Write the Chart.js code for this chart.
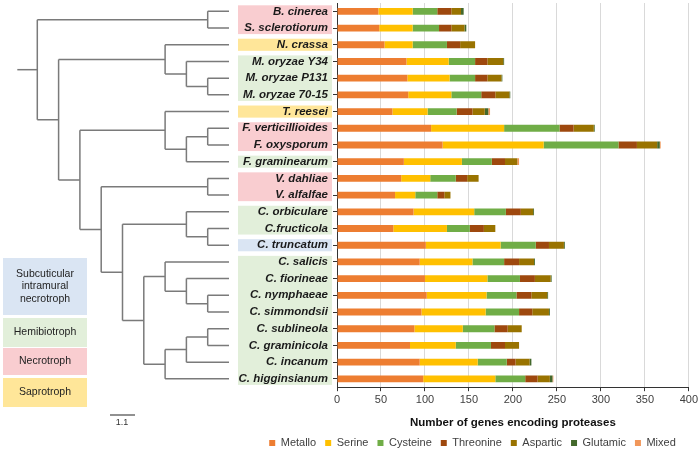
<!DOCTYPE html>
<html>
<head>
<meta charset="utf-8">
<script src="https://cdn.jsdelivr.net/npm/chart.js@4.4.1/dist/chart.umd.min.js"></script>
<style>
  body { margin: 0; background: #fff; }
  canvas { display: block; }
</style>
</head>
<body>
<canvas id="myChart" width="700" height="451"></canvas>
<script>
// species in the order of the tree, top to bottom
const species = [
  "B. cinerea", "S. sclerotiorum", "N. crassa", "M. oryzae Y34", "M. oryzae P131",
  "M. oryzae 70-15", "T. reesei", "F. verticillioides", "F. oxysporum", "F. graminearum",
  "V. dahliae", "V. alfalfae", "C. orbiculare", "C.fructicola", "C. truncatum",
  "C. salicis", "C. fiorineae", "C. nymphaeae", "C. simmondsii", "C. sublineola",
  "C. graminicola", "C. incanum", "C. higginsianum",
];

// N = necrotroph, S = saprotroph, H = hemibiotroph, B = subcuticular intramural necrotroph
const lifestyle = ["N", "N", "S", "H", "H", "H", "S", "N", "N", "H", "N", "N", "H", "H", "B", "H", "H", "H", "H", "H", "H", "H", "H"];

const metallo = [47, 48, 54, 79, 80, 81, 63, 107, 120, 76, 73, 66, 87, 64, 101, 94, 100, 102, 96, 88, 83, 94, 98];
const serine = [39, 38, 32, 48, 48, 49, 40, 83, 115, 66, 33, 23, 69, 61, 85, 60, 71, 68, 73, 55, 52, 66, 82];
const cysteine = [28, 30, 39, 30, 29, 34, 33, 63, 85, 34, 29, 25, 36, 26, 40, 36, 37, 34, 38, 36, 40, 33, 34];
const threonine = [16, 14, 15, 14, 14, 16, 18, 16, 21, 15, 13, 8, 17, 16, 15, 17, 17, 17, 15, 15, 16, 10, 14];
const aspartic = [11, 15, 17, 18, 16, 16, 14, 23, 23, 14, 13, 7, 14, 13, 17, 17, 18, 18, 19, 16, 16, 16, 14];
const glutamic = [3, 2, 0, 1, 1, 1, 4, 1, 3, 0, 0, 0, 1, 0, 1, 1, 1, 1, 1, 0, 0, 2, 3];
const mixed = [0, 0, 0, 0, 0, 0, 2, 0, 1, 2, 0, 0, 0, 0, 0, 0, 0, 0, 0, 0, 0, 0, 1];

// tree topology, leaves are row indices
const tree = [[0, 1], [[2, [3, [4, 5]]], [[6, [[7, 8], 9]], [[10, 11], [[12, [13, 14]], [[15, [16, [17, 18]]], [[[19, 20], 21], 22]]]]]]];

const lifestyleColors = { B: "#dae5f3", H: "#e2efda", N: "#f9cdd0", S: "#ffe699" };
const lifestyleKey = [
  { key: "B", lines: ["Subcuticular", "intramural", "necrotroph"], top: 258, bottom: 315 },
  { key: "H", lines: ["Hemibiotroph"], top: 318, bottom: 347 },
  { key: "N", lines: ["Necrotroph"], top: 348, bottom: 375 },
  { key: "S", lines: ["Saprotroph"], top: 378, bottom: 407 },
];

const FONT = "'Liberation Sans', Arial, sans-serif";
Chart.defaults.font.family = FONT;

const leafX = 229;
const step = 21.3;

function drawNode(ctx, node, yScale) {
  if (typeof node === "number") {
    return { x: leafX, y: yScale.getPixelForValue(node), h: 0 };
  }
  const kids = node.map((n) => drawNode(ctx, n, yScale));
  const h = Math.max(...kids.map((k) => k.h)) + 1;
  const x = leafX - h * step;
  const first = kids[0].y;
  const last = kids[kids.length - 1].y;
  ctx.beginPath();
  ctx.moveTo(x, first);
  ctx.lineTo(x, last);
  kids.forEach((k) => {
    ctx.moveTo(x, k.y);
    ctx.lineTo(k.x, k.y);
  });
  ctx.stroke();
  return { x: x, y: (first + last) / 2, h: h };
}

const treePlugin = {
  id: "tree",
  afterLayout(chart) {
    // legend sits a little right of the centre, as in the original
    chart.legend.left += 10;
    chart.legend.right += 10;
  },
  beforeDraw(chart) {
    const ctx = chart.ctx;
    const y = chart.scales.y;
    const band = Math.abs(y.getPixelForValue(1) - y.getPixelForValue(0));
    ctx.save();

    // coloured boxes behind the species names
    let start = 0;
    for (let i = 1; i <= species.length; i++) {
      if (i === species.length || lifestyle[i] !== lifestyle[start]) {
        const top = y.getPixelForValue(start) - band / 2 + 2.3;
        const bottom = y.getPixelForValue(i - 1) + band / 2 - 2.3;
        ctx.fillStyle = lifestyleColors[lifestyle[start]];
        ctx.fillRect(y.left + 2, top, y.right - y.left - 7, bottom - top);
        start = i;
      }
    }

    // tree
    ctx.strokeStyle = "#7a7a7a";
    ctx.lineWidth = 1.5;
    const root = drawNode(ctx, tree, y);
    ctx.beginPath();
    ctx.moveTo(root.x - 20, root.y);
    ctx.lineTo(root.x, root.y);
    ctx.stroke();

    // scale bar
    ctx.strokeStyle = "#555";
    ctx.lineWidth = 1.3;
    ctx.beginPath();
    ctx.moveTo(110, 415);
    ctx.lineTo(135, 415);
    ctx.stroke();
    ctx.fillStyle = "#333";
    ctx.font = "9px " + FONT;
    ctx.textAlign = "center";
    ctx.textBaseline = "middle";
    ctx.fillText("1.1", 122, 423);

    // lifestyle key
    lifestyleKey.forEach((item) => {
      ctx.fillStyle = lifestyleColors[item.key];
      ctx.fillRect(3, item.top, 84, item.bottom - item.top);
      ctx.fillStyle = "#222";
      ctx.font = "10.5px " + FONT;
      const mid = (item.top + item.bottom) / 2;
      item.lines.forEach((line, j) => {
        ctx.fillText(line, 45, mid + (j - (item.lines.length - 1) / 2) * 12.5);
      });
    });
    ctx.restore();
  },
};

const ctx = document.getElementById("myChart").getContext("2d");
const myChart = new Chart(ctx, {
  type: "bar",
  data: {
    labels: species,
    datasets: [
      { label: "Metallo", data: metallo, backgroundColor: "#ed7d31" },
      { label: "Serine", data: serine, backgroundColor: "#ffc000" },
      { label: "Cysteine", data: cysteine, backgroundColor: "#70ad47" },
      { label: "Threonine", data: threonine, backgroundColor: "#9e480e" },
      { label: "Aspartic", data: aspartic, backgroundColor: "#997300" },
      { label: "Glutamic", data: glutamic, backgroundColor: "#43682b" },
      { label: "Mixed", data: mixed, backgroundColor: "#f1975a" },
    ],
  },
  options: {
    indexAxis: "y",
    responsive: false,
    animation: false,
    datasets: {
      bar: { categoryPercentage: 1, barPercentage: 0.41, borderWidth: 0 },
    },
    layout: { padding: { left: 236, right: 11, top: 3, bottom: -7.5 } },
    plugins: {
      legend: {
        position: "bottom",
        labels: { boxWidth: 6, boxHeight: 6, padding: 9, color: "#404040", font: { size: 11 } },
      },
      tooltip: { enabled: false },
    },
    scales: {
      x: {
        stacked: true,
        min: 0,
        max: 400,
        ticks: { stepSize: 50, padding: 2, color: "#404040", font: { size: 11 } },
        grid: { color: "#d9d9d9", tickColor: "#333", tickLength: 4 },
        border: { color: "#333" },
        title: {
          display: true,
          text: "Number of genes encoding proteases",
          color: "#111",
          font: { size: 11.5, weight: "bold" },
          padding: { top: 8, bottom: -1.7 },
        },
      },
      y: {
        stacked: true,
        afterFit(scale) {
          scale.width = 101;
          scale.paddingTop = 0;
          scale.paddingBottom = 0;
        },
        ticks: {
          autoSkip: false,
          padding: 5,
          color: "#1a1a1a",
          font: { size: 11.5, style: "italic", weight: "bold" },
        },
        grid: { drawOnChartArea: false, offset: false, tickLength: 4, tickColor: "#333" },
        border: { color: "#333" },
      },
    },
  },
  plugins: [treePlugin],
});
</script>
</body>
</html>
